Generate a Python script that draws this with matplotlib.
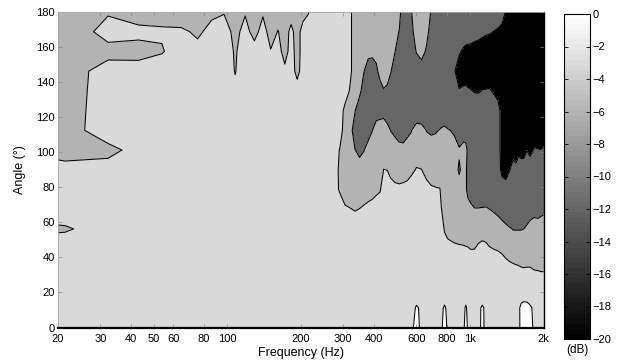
import numpy as np
import matplotlib
matplotlib.use("Agg")
import matplotlib.pyplot as plt
from matplotlib.cm import ScalarMappable
from matplotlib.colors import Normalize

plt.rcParams['font.family'] = ['Liberation Sans', 'DejaVu Sans']
plt.rcParams['contour.negative_linestyle'] = 'solid'

# measurement angles (deg) - rows of the level grid
angles_deg = [0, 11.25, 22.5, 33.75, 45, 56.25, 67.5, 78.75, 90,
              101.25, 112.5, 123.75, 135, 146.25, 157.5, 168.75, 180]

# frequencies (Hz) - columns of the level grid
freq_hz = [10.8, 21.5, 32.3, 43.1, 53.8, 64.6, 75.4, 86.1, 96.9, 107.7,
           118.4, 129.2, 140.0, 150.7, 161.5, 172.3, 183.0, 193.8, 204.6, 215.3,
           226.1, 245, 270, 290, 305, 320, 335, 350, 365, 380,
           395, 410, 425, 440, 455, 470, 490, 510, 530, 550,
           570, 600, 630, 660, 690, 720, 750, 760, 783, 806,
           830, 860, 900, 940, 958, 976, 1000, 1040, 1080, 1120,
           1160, 1200, 1250, 1300, 1350, 1400, 1450, 1500, 1540, 1580,
           1620, 1660, 1710, 1760, 1830, 1900, 1950, 2000]

# relative level (dB) for each frequency, listed from 0 deg to 180 deg
level_db = [
    [-1.5,-1.5,-1.5,-1.5,-1.5,-4.5,-1.5,-1.5,-1.5,-2.9,-4.5,-4.5,-4.5,-4.5,-4.5,-4.5,-4.5],
    [-1.5,-1.5,-1.5,-1.5,-1.5,-3.3,-1.5,-1.5,-1.5,-4.9,-4.5,-4.15,-4.3,-4.5,-4.5,-5.16,-4.5],
    [-1.5,-1.5,-1.5,-1.5,-1.5,-1.5,-1.5,-1.5,-1.5,-4.09,-0.8,-1.5,-1.5,-1.5,-4.16,-1.65,-3.35],
    [-1.5,-1.5,-1.5,-1.5,-1.5,-1.5,-1.5,-1.5,-1.5,-1.5,-1.5,-1.5,-1.5,-1.5,-4.24,-2.1,-4.73],
    [-1.5,-1.5,-1.5,-1.5,-1.5,-1.5,-1.5,-1.5,-1.5,-1.5,-1.5,-1.5,-1.5,-1.5,-3.2,-2.7,-3.9],
    [-1.5,-1.5,-1.5,-1.5,-1.5,-1.5,-1.5,-1.5,-1.5,-1.5,-1.5,-1.5,-1.5,-1.5,-1.5,-2.6,-4.5],
    [-1.5,-1.5,-1.5,-1.5,-1.5,-1.5,-1.5,-1.5,-1.5,-1.5,-1.5,-1.5,-1.5,-1.5,-2.3,-3.4,-4.5],
    [-1.5,-1.5,-1.5,-1.5,-1.5,-1.5,-1.5,-1.5,-1.5,-1.5,-1.5,-1.5,-1.5,-1.5,-1.5,-2.3,-3.5],
    [-1.5,-1.5,-1.5,-1.5,-1.5,-1.5,-1.5,-1.5,-1.5,-1.5,-1.5,-1.5,-1.5,-1.2,-1.0,-1.5,-3.2],
    [-1.5,-1.5,-1.5,-1.5,-1.5,-1.5,-1.5,-1.5,-1.5,-1.5,-1.5,-1.5,-2.3,-3.15,-3.4,-4.0,-4.5],
    [-1.5,-1.5,-1.5,-1.5,-1.5,-1.5,-1.5,-1.5,-1.5,-1.5,-1.5,-1.5,-1.5,-1.0,-1.0,-1.8,-3.3],
    [-1.5,-1.5,-1.5,-1.5,-1.5,-1.5,-1.5,-1.5,-1.5,-1.5,-1.5,-1.5,-1.5,-1.5,-1.5,-4.28,-4.5],
    [-1.5,-1.5,-1.5,-1.5,-1.5,-1.5,-1.5,-1.5,-1.5,-1.5,-1.5,-1.5,-1.5,-1.5,-1.5,-1.5,-3.47],
    [-1.5,-1.5,-1.5,-1.5,-1.5,-1.5,-1.5,-1.5,-1.5,-1.5,-1.5,-1.5,-1.5,-1.5,-2.8,-4.5,-4.5],
    [-1.5,-1.5,-1.5,-1.5,-1.5,-1.5,-1.5,-1.5,-1.5,-1.5,-1.5,-1.5,-1.5,-1.5,-1.5,-2.86,-4.5],
    [-1.5,-1.5,-1.5,-1.5,-1.5,-1.5,-1.5,-1.5,-1.5,-1.5,-1.5,-1.5,-1.5,-2.16,-4.5,-4.5,-4.5],
    [-1.5,-1.5,-1.5,-1.5,-1.5,-1.5,-1.5,-1.5,-1.5,-1.5,-1.5,-1.5,-1.5,-1.5,-1.5,-2.1,-4.5],
    [-1.5,-1.5,-1.5,-1.5,-1.5,-1.5,-1.5,-1.5,-1.5,-1.5,-1.5,-1.5,-1.5,-4.06,-4.5,-4.5,-4.5],
    [-1.5,-1.5,-1.5,-1.5,-1.5,-1.5,-1.5,-1.5,-1.5,-1.5,-1.5,-1.5,-1.5,-1.5,-1.5,-1.5,-4.5],
    [-1.5,-1.5,-1.5,-1.5,-1.5,-1.5,-1.5,-1.5,-1.5,-1.5,-1.5,-1.5,-1.5,-1.5,-1.5,-1.5,-3.2],
    [-1.5,-1.5,-1.5,-1.5,-1.5,-1.5,-1.5,-1.5,-1.5,-1.5,-1.5,-1.5,-1.5,-1.5,-1.5,-1.5,-1.5],
    [-1.5,-1.5,-1.5,-1.5,-1.5,-1.5,-1.5,-1.5,-1.5,-1.5,-1.5,-1.5,-1.5,-1.5,-1.5,-1.5,-1.5],
    [-1.5,-1.5,-1.5,-1.5,-1.5,-1.5,-1.5,-1.5,-1.5,-1.5,-1.5,-1.5,-1.5,-1.5,-1.5,-1.5,-1.5],
    [-1.5,-1.5,-1.5,-1.5,-1.5,-1.5,-1.5,-3.3,-3.4,-3.1,-1.5,-1.5,-1.5,-1.5,-1.5,-1.5,-1.5],
    [-1.5,-1.5,-1.5,-1.5,-1.5,-1.5,-2.6,-4.5,-4.5,-4.5,-4.5,-3.8,-1.5,-1.5,-1.5,-1.5,-1.5],
    [-1.5,-1.5,-1.5,-1.5,-1.5,-1.5,-2.9,-4.5,-4.5,-4.5,-4.5,-4.5,-3.3,-2.4,-2.4,-2.4,-2.4],
    [-1.5,-1.5,-1.5,-1.5,-1.5,-1.5,-3.17,-4.5,-4.5,-5.9,-8.0,-5.75,-4.5,-4.5,-4.5,-4.5,-4.5],
    [-1.5,-1.5,-1.5,-1.5,-1.5,-1.5,-2.95,-4.5,-4.5,-6.9,-9.0,-9.7,-4.5,-4.5,-4.5,-4.5,-4.5],
    [-1.5,-1.5,-1.5,-1.5,-1.5,-1.5,-2.6,-4.5,-4.5,-6.1,-9.0,-9.0,-9.0,-5.9,-4.5,-4.5,-4.5],
    [-1.5,-1.5,-1.5,-1.5,-1.5,-1.5,-2.1,-4.5,-4.5,-4.5,-7.7,-9.0,-9.0,-8.5,-4.5,-4.5,-4.5],
    [-1.5,-1.5,-1.5,-1.5,-1.5,-1.5,-1.5,-4.5,-4.5,-4.5,-6.05,-9.0,-9.0,-9.2,-4.5,-4.5,-4.5],
    [-1.5,-1.5,-1.5,-1.5,-1.5,-1.5,-1.5,-3.64,-4.5,-4.5,-4.5,-7.6,-9.0,-7.0,-4.5,-4.5,-4.5],
    [-1.5,-1.5,-1.5,-1.5,-1.5,-1.5,-1.5,-3.24,-4.5,-4.5,-4.5,-7.2,-7.7,-4.5,-4.5,-4.5,-4.5],
    [-1.5,-1.5,-1.5,-1.5,-1.5,-1.5,-1.5,-1.5,-2.95,-4.5,-4.5,-7.0,-6.2,-4.5,-4.5,-4.5,-4.5],
    [-1.5,-1.5,-1.5,-1.5,-1.5,-1.5,-1.5,-1.5,-3.05,-4.5,-4.4,-9.0,-6.7,-4.5,-4.5,-4.5,-4.5],
    [-1.5,-1.5,-1.5,-1.5,-1.5,-1.5,-1.5,-1.5,-4.1,-4.5,-6.06,-9.0,-9.0,-5.6,-4.5,-4.5,-4.5],
    [-1.5,-1.5,-1.5,-1.5,-1.5,-1.5,-1.5,-2.2,-4.5,-4.5,-6.8,-9.0,-9.0,-9.0,-5.9,-4.5,-4.5],
    [-1.5,-1.5,-1.5,-1.5,-1.5,-1.5,-1.5,-2.4,-4.5,-4.0,-9.0,-9.0,-9.0,-9.0,-9.0,-6.2,-4.5],
    [-1.5,-1.5,-1.5,-1.5,-1.5,-1.5,-1.5,-2.2,-4.5,-4.3,-9.0,-9.0,-9.0,-9.0,-9.0,-9.0,-9.0],
    [-1.5,-1.5,-1.5,-1.5,-1.5,-1.5,-1.5,-1.8,-4.5,-4.5,-6.9,-9.0,-9.0,-9.0,-9.0,-9.0,-9.0],
    [-1.5,-1.5,-1.5,-1.5,-1.5,-1.5,-1.5,-1.5,-3.7,-4.5,-6.2,-9.0,-9.0,-9.0,-9.0,-7.0,-6.2],
    [2.0,0.4,-2.8,-1.5,-1.5,-1.5,-1.5,-1.5,-2.8,-4.5,-4.3,-9.0,-9.0,-9.0,-5.7,-4.5,-4.5],
    [-1.5,-0.6,-1.5,-1.5,-1.5,-1.5,-1.5,-1.5,-2.95,-4.5,-4.65,-9.0,-9.0,-8.0,-4.5,-4.5,-4.5],
    [-1.5,-1.5,-1.5,-1.5,-1.5,-1.5,-1.5,-1.5,-4.5,-4.5,-6.1,-9.0,-9.0,-9.0,-6.6,-4.5,-4.5],
    [-1.5,-1.5,-1.5,-1.5,-1.5,-1.5,-1.5,-2.6,-4.5,-4.5,-6.5,-9.0,-9.0,-9.0,-9.0,-8.0,-6.2],
    [-1.5,-1.5,-1.5,-1.5,-1.5,-1.5,-1.5,-2.8,-4.5,-4.5,-6.3,-9.0,-9.0,-9.0,-9.0,-9.0,-9.0],
    [-1.5,-1.5,-1.5,-1.5,-1.5,-1.5,-1.5,-2.9,-4.5,-4.5,-5.8,-9.0,-9.0,-9.0,-9.0,-9.0,-9.0],
    [-1.5,-0.6,-1.5,-1.5,-1.5,-1.5,-2.9,-4.5,-4.5,-4.5,-5.5,-9.0,-9.0,-9.0,-9.0,-9.0,-9.0],
    [4.3,0.4,-2.5,-1.5,-1.5,-3.3,-4.5,-4.5,-4.5,-4.5,-5.2,-9.0,-9.0,-9.0,-9.0,-9.0,-9.0],
    [-1.5,-0.6,-1.5,-1.5,-1.5,-4.5,-4.5,-4.5,-4.5,-4.5,-5.7,-9.0,-9.0,-9.0,-9.0,-9.0,-9.0],
    [-1.5,-1.5,-1.5,-1.5,-2.0,-4.5,-4.5,-4.5,-4.5,-4.5,-6.05,-9.0,-9.0,-9.0,-9.0,-9.0,-9.0],
    [-1.5,-1.5,-1.5,-1.5,-2.4,-4.5,-4.5,-4.5,-4.5,-4.5,-6.6,-9.0,-9.0,-11.6,-9.0,-9.0,-9.0],
    [-1.5,-1.5,-1.5,-1.5,-2.6,-4.5,-4.5,-4.5,-6.5,-5.5,-9.0,-9.0,-11.6,-15.0,-11.3,-9.0,-9.0],
    [-1.5,-0.6,-1.5,-1.5,-2.7,-4.5,-4.5,-4.5,-4.5,-3.8,-9.0,-9.0,-10.9,-15.0,-12.9,-9.0,-9.0],
    [5.3,0.4,-2.5,-1.5,-2.8,-4.5,-4.5,-5.5,-5.5,-4.4,-9.0,-9.0,-10.9,-15.0,-13.5,-9.0,-9.0],
    [-1.5,-0.6,-1.5,-1.5,-2.85,-4.5,-4.5,-7.0,-7.0,-7.0,-9.0,-9.0,-11.3,-15.0,-13.7,-9.0,-9.0],
    [-1.5,-1.5,-1.5,-1.5,-3.05,-4.5,-4.5,-9.0,-9.0,-9.0,-9.0,-9.0,-11.7,-15.0,-13.8,-9.0,-9.0],
    [-1.5,-1.5,-1.5,-1.5,-3.05,-4.5,-5.8,-9.0,-9.0,-9.0,-9.0,-9.0,-12.3,-15.0,-15.0,-9.0,-9.0],
    [-1.5,-0.6,-1.5,-1.5,-2.45,-4.5,-5.8,-9.0,-9.0,-9.0,-9.0,-9.0,-12.4,-15.0,-15.0,-9.8,-9.0],
    [1.2,0.4,-2.5,-1.5,-2.0,-4.5,-5.7,-9.0,-9.0,-9.0,-9.0,-9.0,-11.8,-15.0,-15.0,-10.8,-9.0],
    [-1.5,-0.6,-1.5,-1.5,-2.3,-4.5,-5.6,-9.0,-9.0,-9.0,-9.0,-9.0,-11.7,-15.0,-15.0,-11.3,-9.0],
    [-1.5,-1.5,-1.5,-1.5,-2.85,-4.5,-6.0,-9.0,-9.0,-9.0,-9.0,-9.0,-11.5,-15.0,-15.0,-11.6,-9.0],
    [-1.5,-1.5,-1.5,-1.5,-3.05,-4.5,-6.3,-9.0,-9.0,-9.0,-9.0,-9.0,-12.6,-15.0,-15.0,-12.1,-9.0],
    [-1.5,-1.5,-1.5,-1.5,-3.2,-4.5,-6.8,-9.0,-9.0,-9.0,-9.0,-9.0,-15.0,-15.0,-15.0,-12.7,-9.0],
    [-1.5,-1.5,-1.5,-1.5,-3.55,-4.5,-7.9,-9.0,-13.7,-15.0,-15.0,-15.0,-15.0,-15.0,-15.0,-14.0,-9.0],
    [-1.5,-1.5,-1.5,-1.5,-4.5,-5.0,-9.0,-9.0,-15.0,-15.0,-15.0,-15.0,-15.0,-15.0,-15.0,-15.0,-12.5],
    [-1.5,-1.5,-1.5,-2.2,-4.5,-5.7,-9.0,-9.0,-12.2,-15.0,-15.0,-15.0,-15.0,-15.0,-15.0,-15.0,-15.0],
    [-1.5,-1.5,-1.5,-2.5,-4.5,-6.1,-9.0,-9.0,-9.0,-15.0,-15.0,-15.0,-15.0,-15.0,-15.0,-15.0,-15.0],
    [-1.5,-1.5,-1.5,-2.65,-4.5,-6.1,-9.0,-9.0,-10.4,-15.0,-15.0,-15.0,-15.0,-15.0,-15.0,-15.0,-15.0],
    [-1.5,-0.6,-1.5,-2.75,-4.5,-6.1,-9.0,-9.0,-9.0,-13.4,-15.0,-15.0,-15.0,-15.0,-15.0,-15.0,-15.0],
    [1.8,0.8,-2.5,-2.9,-4.5,-6.1,-9.0,-9.0,-9.0,-14.3,-15.0,-15.0,-15.0,-15.0,-15.0,-15.0,-15.0],
    [2.0,1.0,-2.2,-2.95,-4.5,-6.0,-9.0,-9.0,-9.0,-14.2,-15.0,-15.0,-15.0,-15.0,-15.0,-15.0,-15.0],
    [2.0,1.0,-2.5,-2.9,-4.5,-5.2,-9.0,-9.0,-9.0,-12.1,-15.0,-15.0,-15.0,-15.0,-15.0,-15.0,-15.0],
    [3.0,0.5,-2.8,-2.9,-4.5,-4.5,-8.0,-9.0,-9.0,-13.4,-15.0,-15.0,-15.0,-15.0,-15.0,-15.0,-15.0],
    [-1.5,-0.6,-1.5,-3.13,-4.5,-4.5,-7.1,-9.0,-9.0,-11.6,-15.0,-15.0,-15.0,-15.0,-15.0,-15.0,-15.0],
    [-1.5,-1.5,-1.5,-3.2,-4.5,-4.5,-7.3,-9.0,-9.0,-11.8,-15.0,-15.0,-15.0,-15.0,-15.0,-15.0,-15.0],
    [-1.5,-1.5,-1.5,-3.3,-4.5,-4.5,-6.9,-9.0,-9.0,-11.9,-15.0,-15.0,-15.0,-15.0,-15.0,-15.0,-15.0],
    [-1.5,-1.5,-1.5,-3.3,-4.5,-4.5,-6.6,-9.0,-9.0,-11.4,-15.0,-15.0,-15.0,-15.0,-15.0,-15.0,-15.0],
]

contour_levels = [-12, -6, -3, 0]
band_colors = ['#000000', '#666666', '#b3b3b3', '#d9d9d9', '#ffffff']
x_ticks = [20, 30, 40, 50, 60, 80, 100, 200, 300, 400, 600, 800, 1000, 2000]
x_tick_labels = ['20', '30', '40', '50', '60', '80', '100', '200', '300', '400',
                 '600', '800', '1k', '2k']
y_ticks = [0, 20, 40, 60, 80, 100, 120, 140, 160, 180]
cbar_ticks = [0, -2, -4, -6, -8, -10, -12, -14, -16, -18, -20]

assert len(level_db) == len(freq_hz)
assert all(len(c) == len(angles_deg) for c in level_db)

Z = np.array(level_db).T

W, H = 621, 363
fig = plt.figure(figsize=(W / 100, H / 100), dpi=100)
ax = fig.add_axes([57.5 / W, 1 - 327.5 / H, 486 / W, 315.5 / H])

ax.contourf(freq_hz, angles_deg, Z, levels=[-40] + contour_levels + [20],
            colors=band_colors)
ax.contour(freq_hz, angles_deg, Z, levels=contour_levels, colors='k',
           linewidths=0.75, linestyles='solid')

ax.set_xscale('log')
ax.set_xlim(20, 2000)
ax.set_ylim(0, 180)
ax.set_xticks(x_ticks)
ax.set_xticklabels(x_tick_labels)
ax.xaxis.set_minor_locator(matplotlib.ticker.NullLocator())
ax.set_yticks(y_ticks)
ax.tick_params(axis='both', which='both', direction='in', length=3, width=0.5,
               color='#888888', labelsize=8, top=True, right=True)
ax.tick_params(axis='x', pad=4.5)
ax.tick_params(axis='y', pad=2)
ax.set_xlabel('Frequency (Hz)', fontsize=9, labelpad=2)
ax.set_ylabel('Angle (°)', fontsize=9, labelpad=7)
for s in ['top', 'left']:
    ax.spines[s].set_color('#aaaaaa')
    ax.spines[s].set_linewidth(0.6)
ax.spines['right'].set_color('k')
ax.spines['right'].set_linewidth(1.0)
ax.spines['bottom'].set_color('k')
ax.spines['bottom'].set_linewidth(1.6)

cax = fig.add_axes([564 / W, 1 - 339 / H, 26 / W, 325 / H])
sm = ScalarMappable(norm=Normalize(-20, 0), cmap=plt.get_cmap('gray', 64))
cb = fig.colorbar(sm, cax=cax, ticks=cbar_ticks)
cb.outline.set_linewidth(0.8)
cax.tick_params(direction='in', length=3, width=0.6, labelsize=8, right=True,
                left=True, pad=2, color='k')
cax.yaxis.set_ticks_position('both')
fig.text(577 / W, 1 - 350 / H, '(dB)', ha='center', va='center', fontsize=8.5)

fig.savefig('out.png', dpi=100)
